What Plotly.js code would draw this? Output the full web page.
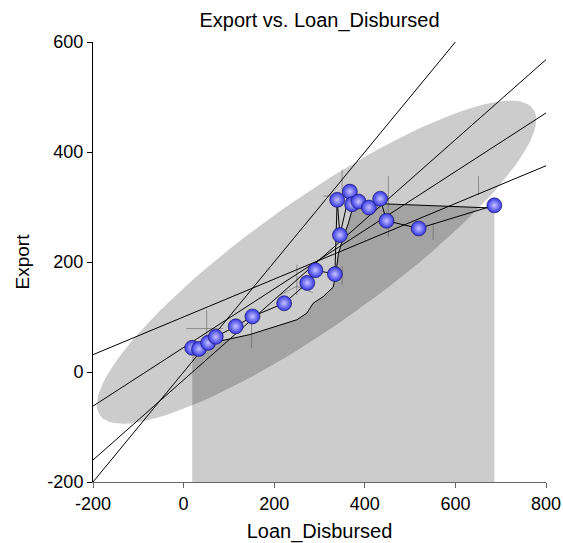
<!DOCTYPE html>
<html><head><meta charset="utf-8">
<script src="https://cdn.plot.ly/plotly-3.0.1.min.js"></script>
<style>html,body{margin:0;padding:0;background:#fff;}#chart{width:563px;height:543px;}</style>
</head><body><div id="chart"></div>
<script>
// Observed points (Loan_Disbursed, Export)
const loanDisbursed = [19, 34, 54, 71, 115, 152, 222, 273, 291, 334, 339, 345, 367, 372, 386, 409, 434, 448, 519, 686];
const exportVals    = [44, 42, 53, 64, 83, 101, 125, 162, 185, 178, 313, 249, 328, 305, 310, 299, 315, 275, 261, 303];

// Lower envelope curve (its area is shaded down to the axis)
const envX = [19, 73, 146, 205, 250, 272, 286, 308, 330, 334, 338, 342, 353, 364, 371, 382, 404, 434, 560, 686];
const envY = [47, 55, 68, 83, 95, 107, 125, 137, 154, 168, 192, 216, 246, 271, 292, 301, 307, 306, 302, 298];

// Straight fit / reference lines: y = slope*x + intercept
const lineSlopes     = [0.3435, 0.533, 0.728, 1.0];
const lineIntercepts = [100.2, 44.6, -14.4, 0];

// Gray bin crosses (vertical ranges, horizontal ranges, one bent arm)
const vBarX    = [51, 150, 250, 350, 350, 452, 551, 651];
const vBarLow  = [46, 44, 140, 159, 320, 246, 240, 322];
const vBarHigh = [113, 95, 195, 192, 368, 356, 271, 356];
const hBarY    = [79, 320];
const hBarLow  = [6, 308];
const hBarHigh = [87, 340];
const armX = [213, 250, 286];
const armY = [140, 156, 144];

// Tick values and labels
const xTicks = [-200, 0, 200, 400, 600, 800];
const xTickText = ['-200', '0', '200', '400', '600', '800'];
const yTicks = [-200, 0, 200, 400, 600];
const yTickText = ['-200', '0', '200', '400', '600'];

const xRange = [-200, 800];
const yRange = [-200, 600];
const ellipseK = 2.74; // 95% prediction ellipse scale

// ---- derived: prediction ellipse from data mean/covariance
const n = loanDisbursed.length;
const mx = loanDisbursed.reduce((a,b)=>a+b,0)/n;
const my = exportVals.reduce((a,b)=>a+b,0)/n;
let sxx=0, syy=0, sxy=0;
for (let i=0;i<n;i++){const dx=loanDisbursed[i]-mx, dy=exportVals[i]-my; sxx+=dx*dx; syy+=dy*dy; sxy+=dx*dy;}
sxx/=(n-1); syy/=(n-1); sxy/=(n-1);
const tr=(sxx+syy)/2, det=sxx*syy-sxy*sxy;
const l1=tr+Math.sqrt(tr*tr-det), l2=tr-Math.sqrt(tr*tr-det);
const ang=Math.atan2(l1-sxx, sxy);
const ex=[], ey=[];
for (let i=0;i<=120;i++){
  const t=2*Math.PI*i/120;
  const u=ellipseK*Math.sqrt(l1)*Math.cos(t), v=ellipseK*Math.sqrt(l2)*Math.sin(t);
  ex.push(mx+u*Math.cos(ang)-v*Math.sin(ang));
  ey.push(my+u*Math.sin(ang)+v*Math.cos(ang));
}

// sorted connecting line
const order=[...Array(n).keys()].sort((a,b)=>loanDisbursed[a]-loanDisbursed[b]);
const connX=order.map(i=>loanDisbursed[i]), connY=order.map(i=>exportVals[i]);

const traces=[];
traces.push({x:ex,y:ey,mode:'lines',fill:'toself',fillcolor:'rgba(0,0,0,0.2)',line:{width:0,color:'rgba(0,0,0,0)'},hoverinfo:'skip',showlegend:false});
// shaded area under envelope
traces.push({x:envX.concat([envX[envX.length-1], envX[0]]), y:envY.concat([yRange[0], yRange[0]]),
  mode:'lines',fill:'toself',fillcolor:'rgba(0,0,0,0.2)',line:{width:0,color:'rgba(0,0,0,0)'},hoverinfo:'skip',showlegend:false});
// crosses
const cx=[], cy=[];
for (let i=0;i<vBarX.length;i++){cx.push(vBarX[i],vBarX[i],null); cy.push(vBarLow[i],vBarHigh[i],null);}
for (let i=0;i<hBarY.length;i++){cx.push(hBarLow[i],hBarHigh[i],null); cy.push(hBarY[i],hBarY[i],null);}
cx.push(...armX); cy.push(...armY);
traces.push({x:cx,y:cy,mode:'lines',line:{color:'rgba(90,90,90,0.55)',width:1},hoverinfo:'skip',showlegend:false});
// straight lines
for (let k=0;k<lineSlopes.length;k++){
  traces.push({x:xRange,y:xRange.map(v=>lineSlopes[k]*v+lineIntercepts[k]),mode:'lines',line:{color:'#000',width:1},hoverinfo:'skip',showlegend:false});
}
// envelope curve
traces.push({x:envX,y:envY,mode:'lines',line:{color:'#000',width:1},hoverinfo:'skip',showlegend:false});
// connecting line
traces.push({x:connX,y:connY,mode:'lines',line:{color:'#000',width:1},hoverinfo:'skip',showlegend:false});
// markers (sphere-like)
traces.push({x:loanDisbursed,y:exportVals,mode:'markers',showlegend:false,
  marker:{size:15,color:'#3434e6',gradient:{type:'radial',color:'#c4c4ff'},line:{color:'#14145a',width:0.6}}});

const fontFam='"Liberation Sans", Arial, Helvetica, sans-serif';
const layout={
  width:563,height:543,
  margin:{l:93,r:17,t:42,b:61},
  paper_bgcolor:'#fff',plot_bgcolor:'#fff',
  font:{family:fontFam,color:'#000',size:17},
  title:{text:'Export vs. Loan_Disbursed',x:0.5,xref:'paper',y:0.963,yanchor:'middle',font:{size:20,family:fontFam,color:'#000'}},
  xaxis:{range:xRange,tickvals:xTicks,ticktext:xTickText,showgrid:false,zeroline:false,showline:true,linecolor:'#666',linewidth:1,
    ticks:'outside',ticklen:5,tickcolor:'#666',tickfont:{size:18},
    title:{text:'Loan_Disbursed',font:{size:20},standoff:12}},
  yaxis:{range:yRange,tickvals:yTicks,ticktext:yTickText,showgrid:false,zeroline:false,showline:true,linecolor:'#000',linewidth:1,
    ticks:'outside',ticklen:5,tickcolor:'#000',tickfont:{size:18},
    title:{text:'Export',font:{size:19},standoff:12}},
  showlegend:false
};
Plotly.newPlot('chart',traces,layout,{displayModeBar:false,staticPlot:true});
</script></body></html>
